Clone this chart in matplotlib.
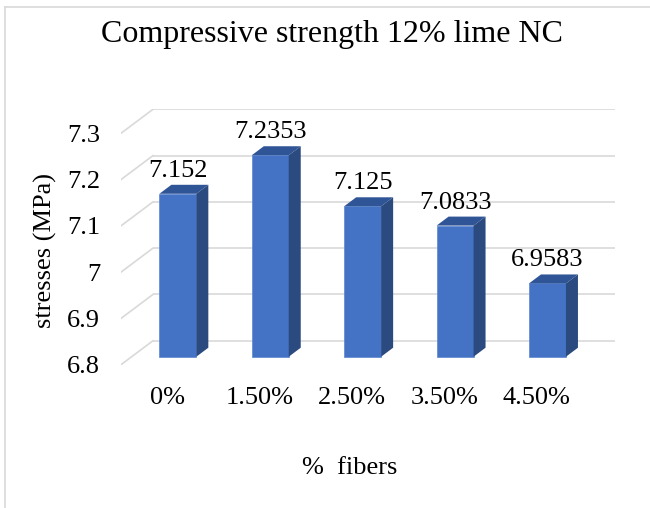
import numpy as np
import matplotlib
matplotlib.use("Agg")
import matplotlib.pyplot as plt
from matplotlib.patches import Polygon
from matplotlib.lines import Line2D

plt.rcParams["font.family"] = ["Liberation Serif", "DejaVu Serif"]

# Data
categories = ["0%", "1.50%", "2.50%", "3.50%", "4.50%"]
values = [7.152, 7.2353, 7.125, 7.0833, 6.9583]
value_labels = ["7.152", "7.2353", "7.125", "7.0833", "6.9583"]
y_ticks = [6.8, 6.9, 7.0, 7.1, 7.2, 7.3]
y_tick_labels = ["6.8", "6.9", "7", "7.1", "7.2", "7.3"]

title = "Compressive strength 12% lime NC"
x_title = "%  fibers"
y_title = "stresses (MPa)"

# Pseudo-3D geometry (depth offset of the back wall, in data units)
base = 6.8
depth_dx = 0.346
depth_dy = 0.0518
bar_w = 0.4
bar_front = 1 / 3          # bars start a third of the way into the depth
bar_depth = 0.375          # fraction of total depth occupied by a bar

front_col = "#4472C4"
top_col = "#2F5597"
side_col = "#2B4A80"
grid_col = "#D9D9D9"

fig = plt.figure(figsize=(6.5, 5.08), dpi=100)
ax = fig.add_axes([121 / 650, 1 - 364.7 / 508, 494 / 650, 255.4 / 508])
ax.set_xlim(-0.5, len(categories) - 0.5 + depth_dx)
ax.set_ylim(base, y_ticks[-1] + depth_dy)
for s in ax.spines.values():
    s.set_visible(False)

x = np.arange(len(categories))
x_left_edge = -0.5
x_right_edge = len(categories) - 0.5

# Back wall gridlines and floor/side diagonals
for t in y_ticks:
    ax.plot([x_left_edge + depth_dx, x_right_edge + depth_dx],
            [t + depth_dy, t + depth_dy], color=grid_col, lw=1.2, zorder=1,
            solid_capstyle="butt")
    ax.plot([x_left_edge, x_left_edge + depth_dx], [t, t + depth_dy],
            color=grid_col, lw=1.2, zorder=1)

# Bars: front face, top and right side
ox = bar_front * depth_dx
oy = bar_front * depth_dy
bx = bar_depth * depth_dx
by = bar_depth * depth_dy
vals = np.array(values)
ax.bar(x + ox, vals - base, bottom=base + oy, width=bar_w, color=front_col,
       edgecolor="#5B85CF", linewidth=0.5, zorder=3)
for xi, v in zip(x, vals):
    xl = xi + ox - bar_w / 2
    xr = xi + ox + bar_w / 2
    yb = base + oy
    yt = v + oy
    ax.add_patch(Polygon([(xl, yt), (xr, yt), (xr + bx, yt + by), (xl + bx, yt + by)],
                         closed=True, facecolor=top_col, edgecolor="none", zorder=3))
    ax.add_patch(Polygon([(xr, yb), (xr + bx, yb + by), (xr + bx, yt + by), (xr, yt)],
                         closed=True, facecolor=side_col, edgecolor="none", zorder=3))

# Value labels above each bar
for xi, v, lab in zip(x, vals, value_labels):
    ax.annotate(lab, xy=(xi + ox, v + oy), xytext=(0, 12.2), textcoords="offset points",
                ha="center", va="baseline", fontsize=19, color="#000000", zorder=5)

# Axis tick labels
ax.set_yticks(y_ticks)
ax.set_yticklabels(y_tick_labels, fontsize=19)
ax.set_xticks(x)
ax.set_xticklabels(categories, fontsize=19)
ax.tick_params(axis="y", length=0, pad=15)
ax.tick_params(axis="x", length=0, pad=16)

# Titles
fig.text(332 / 650, 1 - 42 / 508, title, ha="center", va="baseline", fontsize=23)
fig.text(350 / 650, 1 - 468 / 508, x_title, ha="center", va="center", fontsize=19)
fig.text(45 / 650, 1 - 250 / 508, y_title, ha="center", va="center", fontsize=19,
         rotation=90)

# Chart area border (left and top edges)
fig.add_artist(Line2D([4.5 / 650, 4.5 / 650], [0, 1 - 7 / 508], color=grid_col, lw=1.2,
                      transform=fig.transFigure))
fig.add_artist(Line2D([4.5 / 650, 1], [1 - 7 / 508, 1 - 7 / 508], color=grid_col, lw=1.2,
                      transform=fig.transFigure))

fig.savefig("out.png", dpi=100, facecolor="white")
